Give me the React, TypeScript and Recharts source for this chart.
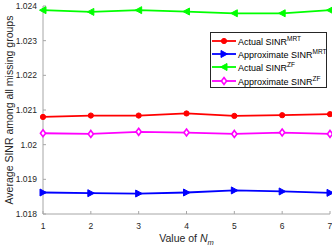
import React from "react";
import { LineChart, Line, XAxis, YAxis, Legend } from "recharts";

const nm = [1, 2, 3, 4, 5, 6, 7];
const actualMrt = [1.0208, 1.02084, 1.02084, 1.0209, 1.02083, 1.02085, 1.02088];
const approxMrt = [1.01862, 1.0186, 1.01859, 1.01862, 1.01868, 1.01865, 1.01861];
const actualZf = [1.02388, 1.02383, 1.02388, 1.02384, 1.02379, 1.02379, 1.02388];
const approxZf = [1.02033, 1.02031, 1.02037, 1.02035, 1.02031, 1.02035, 1.02031];
const yTicks = [1.018, 1.019, 1.02, 1.021, 1.022, 1.023, 1.024];

const data = nm.map((n, i) => ({
  n,
  actualMrt: actualMrt[i],
  approxMrt: approxMrt[i],
  actualZf: actualZf[i],
  approxZf: approxZf[i],
}));

type Shape = "circle" | "right" | "left" | "diamond";

const series: { key: string; color: string; shape: Shape; base: string; sup: string }[] = [
  { key: "actualMrt", color: "#ff0000", shape: "circle", base: "Actual SINR", sup: "MRT" },
  { key: "approxMrt", color: "#0000ff", shape: "right", base: "Approximate SINR", sup: "MRT" },
  { key: "actualZf", color: "#00ff00", shape: "left", base: "Actual SINR", sup: "ZF" },
  { key: "approxZf", color: "#ff00ff", shape: "diamond", base: "Approximate SINR", sup: "ZF" },
];

const FONT = "'Liberation Sans', Arial, sans-serif";
const FRAME = "#a6a6a6";
const TEXT = "#262626";

function Marker({ shape, color, cx, cy }: { shape: Shape; color: string; cx: number; cy: number }) {
  if (shape === "circle") return <circle cx={cx} cy={cy} r={2.6} fill={color} stroke={color} />;
  if (shape === "right")
    return <polygon points={`${cx - 3},${cy - 3.5} ${cx + 3.5},${cy} ${cx - 3},${cy + 3.5}`} fill={color} stroke={color} />;
  if (shape === "left")
    return <polygon points={`${cx + 3},${cy - 3.5} ${cx - 3.5},${cy} ${cx + 3},${cy + 3.5}`} fill={color} stroke={color} />;
  return (
    <polygon
      points={`${cx},${cy - 3.5} ${cx + 2.6},${cy} ${cx},${cy + 3.5} ${cx - 2.6},${cy}`}
      fill="#fff"
      stroke={color}
      strokeWidth={1.6}
    />
  );
}

const renderLegend = () => (
  <div
    style={{
      border: "1px solid #262626",
      background: "#fff",
      width: 115,
      height: 53,
      padding: "1px 0 0 0",
      fontFamily: FONT,
      fontSize: 9,
      color: "#000",
      boxSizing: "content-box",
    }}
  >
    {series.map((s) => (
      <div key={s.key} style={{ display: "flex", alignItems: "center", height: 13.3 }}>
        <svg width={27} height={12} style={{ flex: "none" }}>
          <line x1={1} x2={25} y1={6} y2={6} stroke={s.color} strokeWidth={1.8} />
          <Marker shape={s.shape} color={s.color} cx={13} cy={6} />
        </svg>
        <span style={{ whiteSpace: "nowrap", marginLeft: 0 }}>
          {s.base}
          <sup style={{ fontSize: 6.5, verticalAlign: "4px" }}>{s.sup}</sup>
        </span>
      </div>
    ))}
  </div>
);

const XLabel = (props: any) => {
  const vb = props.viewBox || { x: 43, y: 214, width: 287, height: 35 };
  const cx = vb.x + vb.width / 2;
  return (
    <text x={cx} y={vb.y + 28} textAnchor="middle" fontFamily={FONT} fontSize={10.5} fill={TEXT}>
      Value of{" "}
      <tspan fontStyle="italic">N</tspan>
      <tspan fontStyle="italic" fontSize={7.5} dy={2.5}>
        m
      </tspan>
    </text>
  );
};

const YLabel = (props: any) => {
  const vb = props.viewBox || { x: 0, y: 6, width: 43, height: 208 };
  const x = 8.5;
  const y = vb.y + vb.height / 2;
  return (
    <text
      x={x}
      y={y}
      transform={`rotate(-90 ${x} ${y})`}
      textAnchor="middle"
      dominantBaseline="central"
      fontFamily={FONT}
      fontSize={10.5}
      fill={TEXT}
    >
      Average SINR among all missing groups
    </text>
  );
};

const tickStyle = { fontFamily: FONT, fontSize: 8.5, fill: TEXT };
const fmt = (v: number) => String(parseFloat(v.toFixed(3)));

export default function App() {
  return (
    <div style={{ position: "absolute", left: 0, top: 0, background: "#fff" }}>
      <LineChart width={332} height={249} data={data} margin={{ top: 6, right: 2, left: 0, bottom: 0 }}>
        <XAxis
          dataKey="n"
          type="number"
          domain={[1, 7]}
          ticks={nm}
          height={35}
          tickSize={-3}
          tickMargin={12}
          stroke={FRAME}
          tick={tickStyle}
          label={<XLabel />}
        />
        <XAxis
          xAxisId="top"
          orientation="top"
          type="number"
          domain={[1, 7]}
          ticks={nm}
          allowDataOverflow
          height={0}
          tickSize={-3}
          tick={false}
          stroke={FRAME}
        />
        <YAxis
          type="number"
          domain={[1.018, 1.024]}
          ticks={yTicks}
          width={43}
          tickSize={-3}
          tickMargin={9}
          stroke={FRAME}
          tick={tickStyle}
          tickFormatter={fmt}
          allowDataOverflow
          label={<YLabel />}
        />
        <YAxis
          yAxisId="right"
          orientation="right"
          type="number"
          domain={[1.018, 1.024]}
          ticks={yTicks}
          allowDataOverflow
          width={0}
          tickSize={-3}
          tick={false}
          stroke={FRAME}
        />
        <Legend
          layout="vertical"
          align="center"
          verticalAlign="middle"
          content={renderLegend}
          wrapperStyle={{ position: "absolute", left: 210, top: 32, width: 117, height: 55 }}
        />
        {series.map((s) => (
          <Line
            key={s.key}
            dataKey={s.key}
            stroke={s.color}
            strokeWidth={1.8}
            isAnimationActive={false}
            dot={(p: any) => <Marker key={`${s.key}-${p.index}`} shape={s.shape} color={s.color} cx={p.cx} cy={p.cy} />}
            activeDot={false}
          />
        ))}
      </LineChart>
    </div>
  );
}
